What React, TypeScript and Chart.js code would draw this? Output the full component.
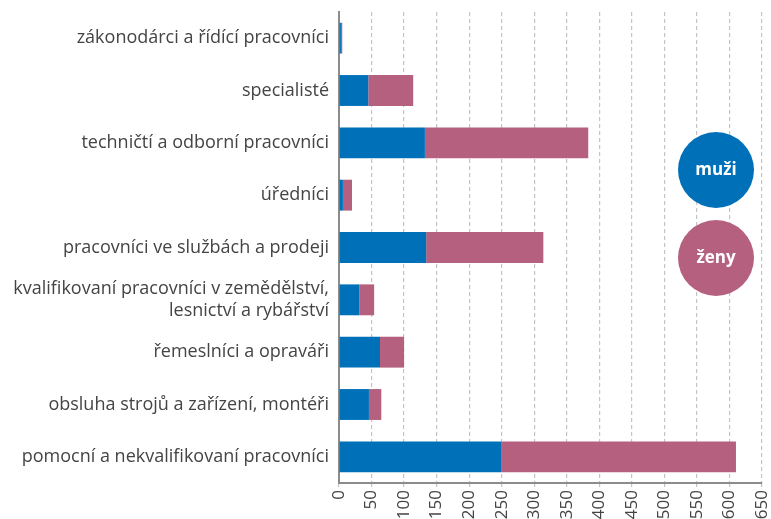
import React, { useEffect, useRef } from "react";
import { Chart, registerables } from "chart.js";

Chart.register(...registerables);

const categories: (string | string[])[] = [
  "zákonodárci a řídící pracovníci",
  "specialisté",
  "techničtí a odborní pracovníci",
  "úředníci",
  "pracovníci ve službách a prodeji",
  ["kvalifikovaní pracovníci v zemědělství,", "lesnictví a rybářství"],
  "řemeslníci a opraváři",
  "obsluha strojů a zařízení, montéři",
  "pomocní a nekvalifikovaní pracovníci",
];

const muzi = [3, 45, 132, 6, 134, 31, 63, 46, 249];
const zeny = [2, 69, 251, 14, 180, 23, 37, 19, 361];

const seriesNames = ["muži", "ženy"];
const seriesColors = ["#0070b8", "#b5607f"];

const FONT = "'Open Sans', sans-serif";

const legendPlugin = {
  id: "circleLegend",
  afterDraw(chart: any) {
    const ctx = chart.ctx;
    const area = chart.chartArea;
    const cx = area.right - 46;
    const cys = [area.top + 158, area.top + 246];
    const r = 38;
    ctx.save();
    seriesNames.forEach((name, i) => {
      ctx.beginPath();
      ctx.arc(cx, cys[i], r, 0, Math.PI * 2);
      ctx.fillStyle = seriesColors[i];
      ctx.fill();
      ctx.fillStyle = "#ffffff";
      ctx.font = `bold 17px ${FONT}`;
      ctx.textAlign = "center";
      ctx.textBaseline = "middle";
      ctx.fillText(name, cx, cys[i]);
    });
    ctx.restore();
  },
};

export default function App() {
  const ref = useRef<HTMLCanvasElement>(null);
  useEffect(() => {
    document.body.style.margin = "0";
    const chart = new Chart(ref.current!, {
      type: "bar",
      data: {
        labels: categories as any,
        datasets: [
          { label: seriesNames[0], data: muzi, backgroundColor: seriesColors[0], borderWidth: 0 },
          { label: seriesNames[1], data: zeny, backgroundColor: seriesColors[1], borderWidth: 0 },
        ],
      },
      options: {
        indexAxis: "y",
        responsive: false,
        animation: false,
        layout: { padding: { top: 12, right: 9, left: 0, bottom: 0 } },
        plugins: { legend: { display: false }, tooltip: { enabled: false } },
        datasets: { bar: { barPercentage: 0.59, categoryPercentage: 1 } },
        scales: {
          x: {
            stacked: true,
            min: 0,
            max: 650,
            ticks: {
              stepSize: 50,
              minRotation: 90,
              maxRotation: 90,
              color: "#444",
              font: { family: FONT, size: 17 },
              padding: 3,
            },
            grid: {
              color: "#c4c4c4",
              lineWidth: 1.2,
              tickLength: 4,
              drawTicks: true,
            },
            border: { display: true, color: "#8c8c8c", width: 2, dash: [4, 3] },
            afterFit(scale: any) {
              scale.height = 36;
              scale.paddingLeft = 0;
              scale.paddingRight = 0;
            },
          },
          y: {
            stacked: true,
            ticks: {
              color: "#444",
              font: { family: FONT, size: 18 },
              padding: 10,
            },
            grid: { display: false, drawTicks: false },
            border: { display: true, color: "#8c8c8c", width: 2 },
            afterFit(scale: any) {
              scale.width = 339;
              scale.paddingTop = 0;
              scale.paddingBottom = 0;
            },
          },
        },
      },
      plugins: [legendPlugin],
    } as any);
    return () => chart.destroy();
  }, []);
  return (
    <div style={{ width: 771, height: 519 }}>
      <canvas ref={ref} width={771} height={519} />
    </div>
  );
}
